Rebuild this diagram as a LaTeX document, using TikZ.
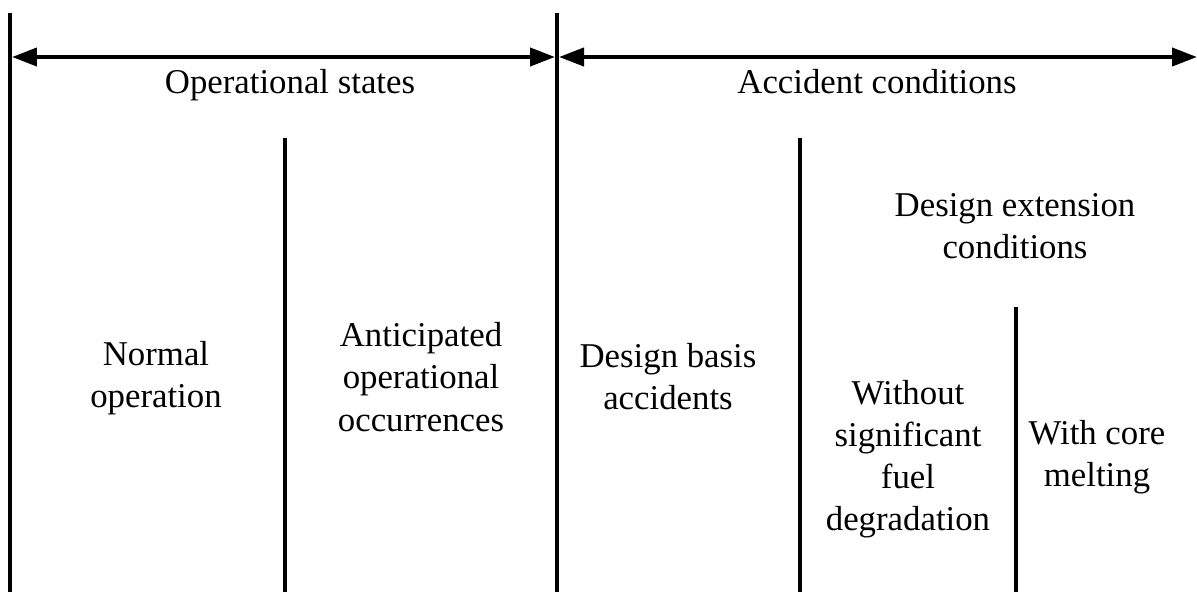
\documentclass[tikz,border=0pt]{standalone}
\usepackage{fontspec}
\setmainfont{Liberation Serif}
\usetikzlibrary{arrows.meta}

\tikzset{
  divider/.style={line width=0.09cm},
  span/.style={line width=0.08cm,{Triangle[length=0.5cm,width=0.36cm]}-{Triangle[length=0.5cm,width=0.36cm]}},
  label/.style={align=center,font=\fontsize{19.8}{24}\selectfont,inner sep=0pt}
}

\begin{document}
\begin{tikzpicture}[x=0.02cm,y=-0.02cm]
\useasboundingbox (0,0) rectangle (1197,592);
% dividers
\draw[divider] (10,13) -- (10,592);
\draw[divider] (557,13) -- (557,592);
\draw[divider] (285,138) -- (285,592);
\draw[divider] (800,138) -- (800,592);
\draw[divider] (1016,307) -- (1016,592);
% spans
\coordinate (os-l) at (12,57);
\coordinate (os-r) at (555,57);
\coordinate (ac-l) at (559,57);
\coordinate (ac-r) at (1197,57);
\draw[span] (os-l) -- (os-r);
\draw[span] (ac-l) -- (ac-r);
% labels
\node[label,anchor=base] (opstates) at (290,93) {Operational states};
\node[label,anchor=base] (accident) at (877,93) {Accident conditions};
\node[label] (normal) at (156,378) {Normal\\operation};
\node[label] (aoo) at (421,377) {Anticipated\\operational\\occurrences};
\node[label] (dba) at (668,377) {Design basis\\accidents};
\node[label] (dec) at (1015,226) {Design extension\\conditions};
\node[label] (nodeg) at (908,459) {Without\\significant\\fuel\\degradation};
\node[label] (melt) at (1097,457) {With core\\melting};
\end{tikzpicture}
\end{document}
